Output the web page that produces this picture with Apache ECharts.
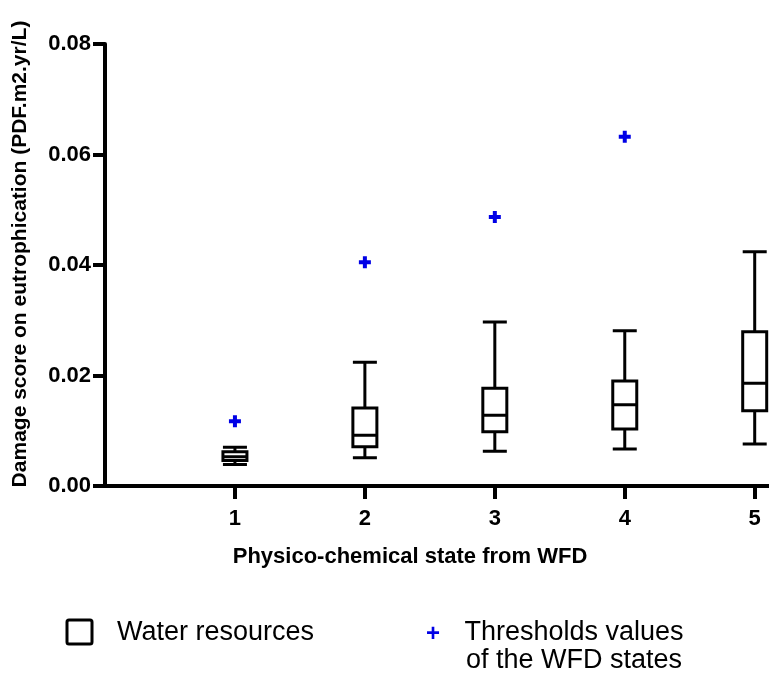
<!DOCTYPE html>
<html>
<head>
<meta charset="utf-8">
<script src="https://cdn.jsdelivr.net/npm/echarts@6/dist/echarts.min.js"></script>
<style>
  html, body { margin: 0; padding: 0; background: #fff; }
  #chart { width: 769px; height: 676px; }
</style>
</head>
<body>
<div id="chart"></div>
<script>
const states = [1, 2, 3, 4, 5];
// [min, Q1, median, Q3, max] per WFD state
const boxMin = [0.0039, 0.0051, 0.0063, 0.0067, 0.0076];
const boxQ1 = [0.0046, 0.0071, 0.0098, 0.0103, 0.0136];
const boxMedian = [0.0053, 0.0092, 0.0128, 0.0147, 0.0186];
const boxQ3 = [0.0062, 0.0141, 0.0177, 0.0190, 0.0279];
const boxMax = [0.0070, 0.0224, 0.0297, 0.0281, 0.0424];
const thresholds = [0.0117, 0.0405, 0.0487, 0.0632];
const yTicks = [0, 0.02, 0.04, 0.06, 0.08];

const font = "'Liberation Sans', Arial, Helvetica, sans-serif";
const plusPath = "path://M4,0h4v4h4v4h-4v4h-4v-4h-4v-4h4z";
const blue = "#0000e6";

const boxData = states.map((s, i) => [s, boxMin[i], boxQ1[i], boxMedian[i], boxQ3[i], boxMax[i]]);
const thresholdData = thresholds.map((v, i) => [states[i], v]);

const chart = echarts.init(document.getElementById("chart"));
chart.setOption({
  animation: false,
  grid: { left: 105, right: 0, top: 44, bottom: 190 },
  xAxis: {
    type: "value",
    min: 0,
    max: 5.11,
    splitLine: { show: false },
    axisLine: { lineStyle: { color: "#000", width: 4 } },
    axisTick: { customValues: states, length: 13, lineStyle: { color: "#000", width: 4 } },
    axisLabel: {
      customValues: states,
      color: "#000",
      fontFamily: font,
      fontWeight: "bold",
      fontSize: 22,
      margin: 22,
    },
  },
  yAxis: {
    type: "value",
    min: yTicks[0],
    max: yTicks[yTicks.length - 1],
    interval: 0.02,
    splitLine: { show: false },
    axisLine: { lineStyle: { color: "#000", width: 4 } },
    axisTick: { length: 12, lineStyle: { color: "#000", width: 4 } },
    axisLabel: {
      color: "#000",
      fontFamily: font,
      fontWeight: "bold",
      fontSize: 22,
      margin: 14,
      formatter: (v) => v.toFixed(2),
    },
  },
  series: [
    {
      name: "Water resources",
      type: "boxplot",
      data: boxData,
      boxWidth: [24, 24],
      itemStyle: { color: "#fff", borderColor: "#000", borderWidth: 3 },
      emphasis: { disabled: true },
    },
    {
      name: "Thresholds values of the WFD states",
      type: "scatter",
      data: thresholdData,
      symbol: plusPath,
      symbolSize: 12,
      itemStyle: { color: blue, opacity: 1 },
      emphasis: { disabled: true },
    },
  ],
  graphic: [
    {
      type: "text",
      x: 20,
      y: 254,
      rotation: Math.PI / 2,
      style: {
        text: "Damage score on eutrophication (PDF.m2.yr/L)",
        fill: "#000",
        font: "bold 21px " + font,
        textAlign: "center",
        textVerticalAlign: "middle",
      },
    },
    {
      type: "text",
      x: 410,
      y: 557,
      style: {
        text: "Physico-chemical state from WFD",
        fill: "#000",
        font: "bold 22px " + font,
        textAlign: "center",
        textVerticalAlign: "middle",
      },
    },
    {
      type: "rect",
      shape: { x: 67, y: 620, width: 25, height: 24, r: 2 },
      style: { fill: "#fff", stroke: "#000", lineWidth: 3 },
    },
    {
      type: "text",
      x: 117,
      y: 633,
      style: {
        text: "Water resources",
        fill: "#000",
        font: "27px " + font,
        textAlign: "left",
        textVerticalAlign: "middle",
      },
    },
    {
      type: "text",
      x: 433,
      y: 634,
      style: {
        text: "+",
        fill: blue,
        font: "bold 24px " + font,
        textAlign: "center",
        textVerticalAlign: "middle",
      },
    },
    {
      type: "text",
      x: 574,
      y: 619,
      style: {
        text: "Thresholds values\nof the WFD states",
        fill: "#000",
        font: "27px " + font,
        lineHeight: 28,
        textAlign: "center",
        textVerticalAlign: "top",
      },
    },
  ],
});
</script>
</body>
</html>
